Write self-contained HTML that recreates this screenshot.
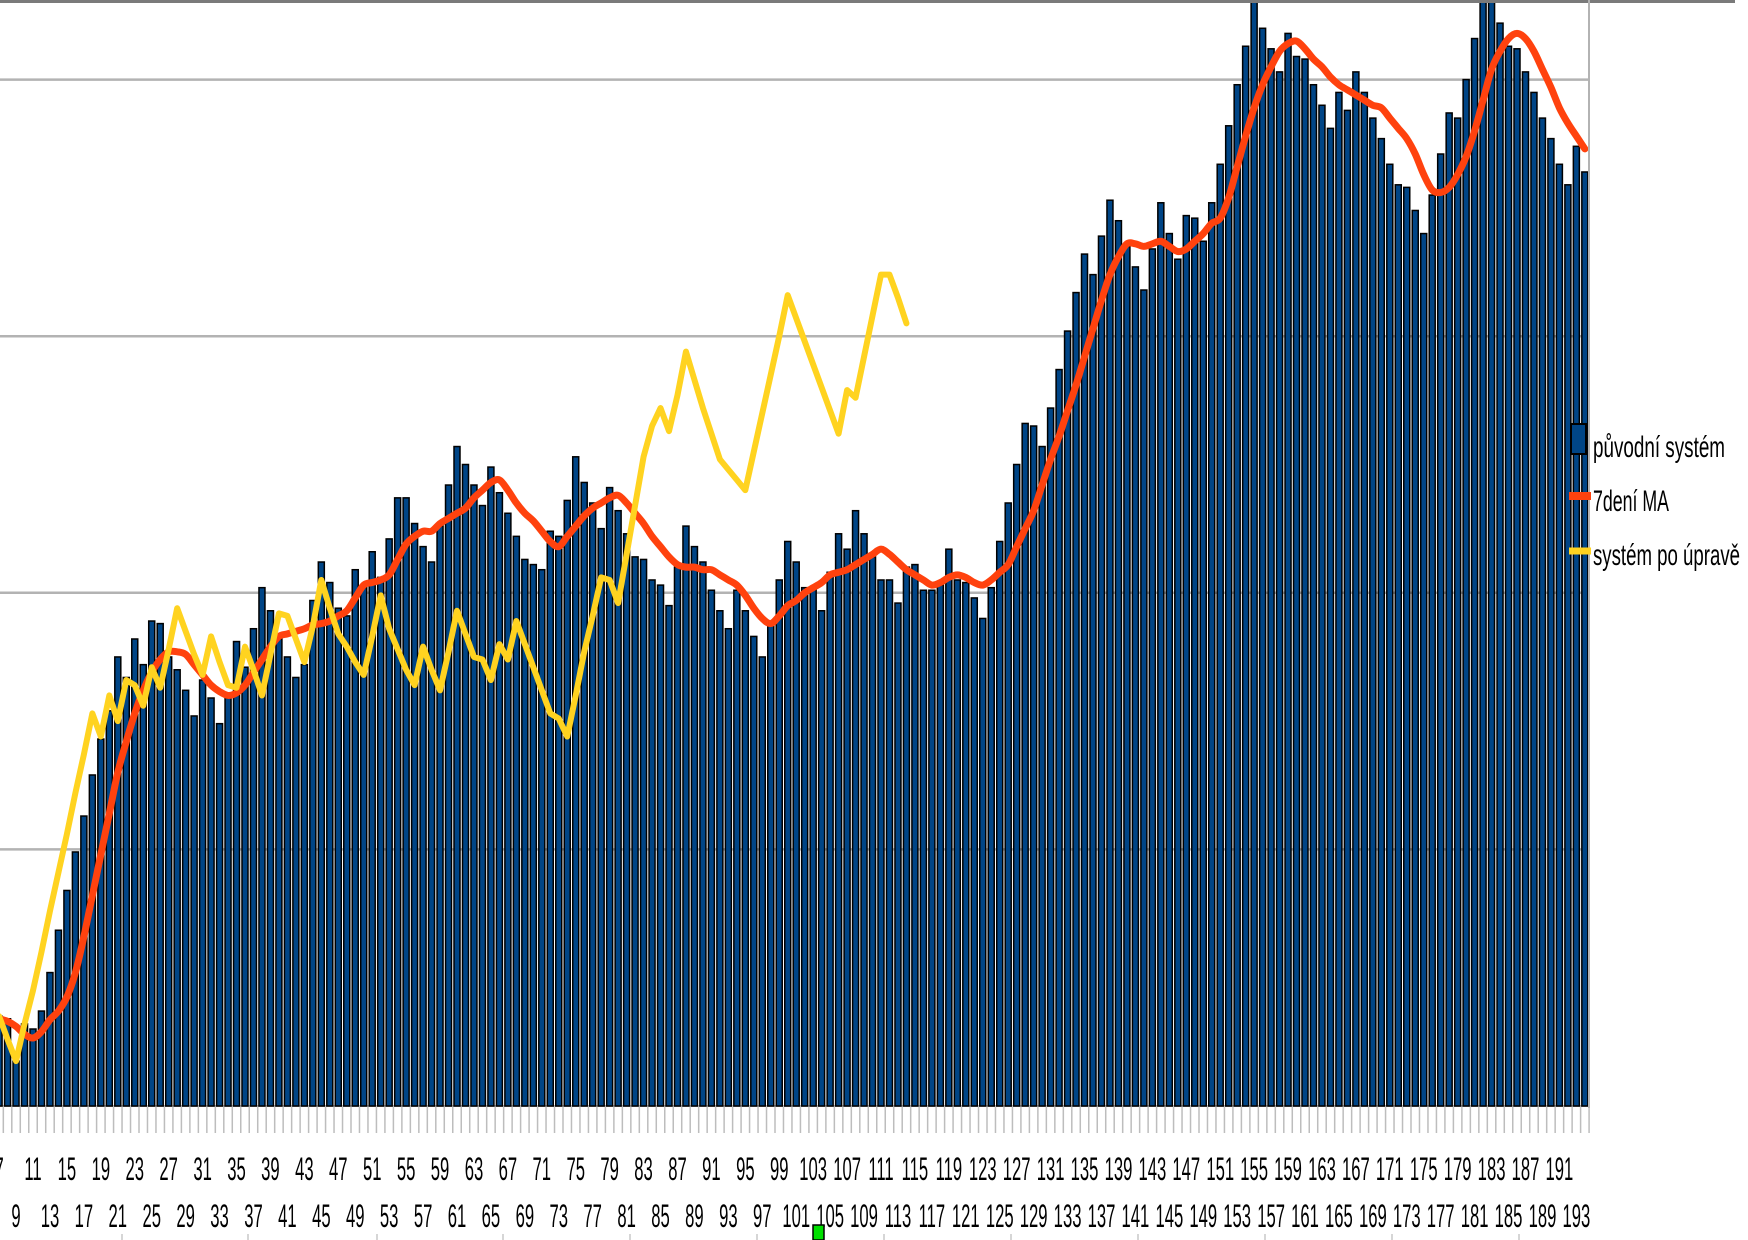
<!DOCTYPE html>
<html><head><meta charset="utf-8">
<style>
html,body{margin:0;padding:0;background:#fff;}
svg{display:block;}
text{font-family:"Liberation Sans",sans-serif;}
</style></head>
<body>
<svg id="chart" width="1748" height="1240" viewBox="0 0 1748 1240" xmlns="http://www.w3.org/2000/svg">
<g id="grid"></g>
<g id="ticks"></g>
<g id="bars"></g>
<g id="lines"></g>
<g id="labels"></g>
<line x1="0" y1="1.5" x2="1735" y2="1.5" stroke="#7a7a7a" stroke-width="3"/>
<line x1="1589" y1="0" x2="1589" y2="1108" stroke="#b3b3b3" stroke-width="2"/>
<g>
  <g>
    <rect x="1571" y="424" width="15" height="30" fill="#004586" stroke="#000" stroke-width="2"/>
    <text x="1593" y="457" font-size="30" textLength="132" lengthAdjust="spacingAndGlyphs" fill="#000">původní systém</text>
  </g>
  <g>
    <line x1="1569" y1="496" x2="1591" y2="496" stroke="#ff420e" stroke-width="8"/>
    <text x="1593" y="511" font-size="30" textLength="76" lengthAdjust="spacingAndGlyphs" fill="#000">7dení MA</text>
  </g>
  <g>
    <line x1="1569" y1="551" x2="1591" y2="551" stroke="#ffd320" stroke-width="7"/>
    <text x="1593" y="565" font-size="30" textLength="147" lengthAdjust="spacingAndGlyphs" fill="#000">systém po úpravě</text>
  </g>
</g>
<rect x="813" y="1225" width="11" height="15" fill="#00e000" stroke="#000" stroke-width="1.5"/>
</svg>
<script>
const firstCategory = 7;
const barValues = [35,34,17.5,32,30,37,52,68.5,84,99,113,129,143,154,175,167,182,172,189,188,175,170,162,152,166,159,149,159,181,171,186,202,193,182,175,167,172,197,212,204,194,191,209,202,216,206,221,237,237,227,218,212,226,242,257,250,242,234,249,239,231,222,213,211,209,224,222,236,253,243,235,225,241,232,223,214,213,205,203,195,210,226,218,212,201,193,186,201,193,183,175,189,205,220,212,202,202,193,208,223,217,232,223,214,205,205,196,210,211,201,201,203,217,205,204,198,190,202,220,235,250,266,265,257,272,287,302,317,332,324,339,353,345,335,327,318,334,352,340,330,347,346,337,352,367,382,398,413,432,420,412,403,418,409,408,398,390,381,395,388,403,395,385,377,367,359,358,349,340,355,371,387,385,400,416,432,432,422,413,412,403,395,385,377,367,359,374,364];
const maValues = [34,33,31,28,26.5,29,33.6,37,42.5,52,66,82,98,114,130,142,153,162,169,174,177,177,176,172,168,164,161.5,160,161,164,169,174,179,183,184,185,186,187.5,188,189,191,193,198,203,204,205,207,213,219,222,224,224,227,229,231,233,237,240,243,244,240,235,231,228,224,220,218,222,226,230,233,235,237,238,235,231,227,222,218,214,211,210,210,209,209,207,205,203,199,194,190,188,191,195,197,200,202,204,207,208,209,211,213,215,217,215,212,209,207,205,203,204,206,207,206,204,203,205,208,211,218,225,232,242,252,261,271,281,292,303,314,324,331,336,336,335,336,337,335,333,334,337,340,344,346,354,366,378,389,398,405,411,414,415,412,408,405,401,398,396,394,392,390,389,385,381,377,371,363,357,356,358,363,370,380,392,404,411,416,418,416,411,404,397,389,383,378,373];
const adjustedValues = [35,26,17.5,32,45,60,76,91,106,122,137,153,144,160,150,166,164,156,171,163,178,194,185,176,168,183,173,164,163,179,170,160,176,192,191,182,173,187,205,194,184,179,173,168,183,199,186,178,170,164,179,170,162,177,193,184,175,174,166,180,174,189,180,171,162,153,151,144,160,177,191,206,205,196,215,234,253,265,272,263,277,294,283,272,262,252,248,244,240,255,270,285,300,316,307,298,289,280,271,262,279,276,292,308,324,324,315,305];
const gridValues = [100,200,300,400];

const NS = "http://www.w3.org/2000/svg";
const BASE = 1106, PX_PER_UNIT = 2.566, STEP = 8.48, X11 = 33, PLOT_TOP = 2;
function xScale(cat){ return X11 + (cat - 11) * STEP; }
function yScale(v){ return Math.max(PLOT_TOP, BASE - v * PX_PER_UNIT); }
function mk(tag, attrs){ const e = document.createElementNS(NS, tag); for (const k in attrs) e.setAttribute(k, attrs[k]); return e; }

const grid = document.getElementById('grid');
gridValues.forEach(v => {
  const l = mk('line', {x1:0, x2:1589, y1:yScale(v), y2:yScale(v), stroke:'#b3b3b3', 'stroke-width':2.5});
  
  
  grid.appendChild(l);
});
const base = mk('line', {x1:0, x2:1589, y1:BASE, y2:BASE, stroke:'#b3b3b3', 'stroke-width':2});


grid.appendChild(base);

const ticks = document.getElementById('ticks');
const nCats = barValues.length;
for (let i = 0; i <= nCats; i++) {
  const x = xScale(firstCategory + i) - STEP / 2;
  const t = mk('line', {x1:x, x2:x, y1:BASE, y2:1133, stroke:'#bdbdbd', 'stroke-width':1.5});
  
  
  ticks.appendChild(t);
}
[122, 248, 377, 503, 630, 757, 884, 1011, 1138, 1265, 1392, 1519].forEach(x => {
  const t = mk('line', {x1:x, x2:x, y1:1234, y2:1240, stroke:'#c8c8c8', 'stroke-width':1.5});
  
  
  ticks.appendChild(t);
});

const bars = document.getElementById('bars');
barValues.forEach((v, i) => {
  const cat = firstCategory + i;
  const y = yScale(v);
  const r = mk('rect', {x:xScale(cat) - 3, y:y, width:6, height:BASE - y, fill:'#004586', stroke:'#000', 'stroke-width':1.5});
  
  
  bars.appendChild(r);
});

function smoothPath(vals){
  const pts = vals.map((v, i) => [xScale(firstCategory + i), yScale(v)]);
  let d = 'M' + pts[0][0] + ' ' + pts[0][1];
  for (let i = 0; i < pts.length - 1; i++) {
    const p0 = pts[Math.max(0, i - 1)], p1 = pts[i], p2 = pts[i + 1], p3 = pts[Math.min(pts.length - 1, i + 2)];
    const c1x = p1[0] + (p2[0] - p0[0]) / 6, c1y = p1[1] + (p2[1] - p0[1]) / 6;
    const c2x = p2[0] - (p3[0] - p1[0]) / 6, c2y = p2[1] - (p3[1] - p1[1]) / 6;
    d += ' C' + c1x + ' ' + c1y + ' ' + c2x + ' ' + c2y + ' ' + p2[0] + ' ' + p2[1];
  }
  return d;
}
function polyPath(vals){
  return vals.map((v, i) => (i ? 'L' : 'M') + xScale(firstCategory + i) + ' ' + yScale(v)).join(' ');
}
const lines = document.getElementById('lines');
const ma = mk('path', {d:smoothPath(maValues), fill:'none', stroke:'#ff420e', 'stroke-width':7, 'stroke-linejoin':'round', 'stroke-linecap':'round'});


lines.appendChild(ma);
const adj = mk('path', {d:polyPath(adjustedValues), fill:'none', stroke:'#ffd320', 'stroke-width':6, 'stroke-linejoin':'round', 'stroke-linecap':'round'});


lines.appendChild(adj);

const labels = document.getElementById('labels');
for (let i = 0; i < nCats; i++) {
  const cat = firstCategory + i;
  if (cat % 2 === 0) continue;
  const top = ((cat - 7) / 2) % 2 === 0;
  const t = mk('text', {transform:'translate(' + xScale(cat) + ',' + (top ? 1180 : 1227) + ') scale(0.52,1)', 'font-size':32, 'text-anchor':'middle', fill:'#000'});
  t.textContent = String(cat);
  
  
  labels.appendChild(t);
}
</script>
</body></html>
